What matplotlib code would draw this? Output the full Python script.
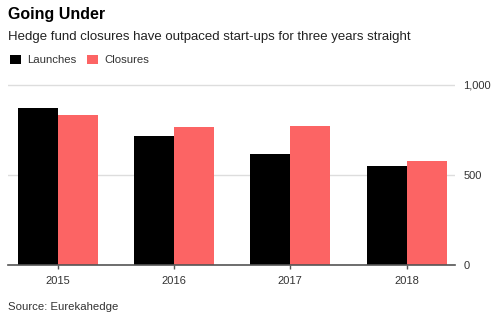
import matplotlib
matplotlib.use("Agg")
import matplotlib.pyplot as plt
import numpy as np

plt.rcParams['font.family'] = ['Liberation Sans', 'DejaVu Sans']

# values
years = ['2015', '2016', '2017', '2018']
launches = [874, 717, 617, 550]
closures = [835, 765, 770, 578]
yticks = [0, 500, 1000]
ytick_labels = ['0', '500', '1,000']

black = '#000000'
red = '#fc6464'

W, H = 500, 329
fig = plt.figure(figsize=(W / 100, H / 100), dpi=100)

# axes placed in pixel coords: left 8, right 455, baseline at y=265, 180px per 1000
ax_left, ax_right, ax_base = 8, 455, 265
ymax = 1010
ax = fig.add_axes([ax_left / W, (H - ax_base) / H, (ax_right - ax_left) / W, ymax * 0.18 / H])

x = np.arange(len(years))
w = 0.344
ax.bar(x - w / 2, launches, w, color=black, label='Launches', zorder=3)
ax.bar(x + w / 2, closures, w, color=red, label='Closures', zorder=3)

ax.set_xlim(-0.427, 3.416)
ax.set_ylim(0, ymax)

for s in ['top', 'left', 'right']:
    ax.spines[s].set_visible(False)
ax.spines['bottom'].set_color('#555555')
ax.spines['bottom'].set_linewidth(1.2)
ax.spines['bottom'].set_zorder(4)

ax.yaxis.tick_right()
ax.set_yticks(yticks)
ax.set_yticklabels(ytick_labels)
ax.tick_params(axis='y', length=0, pad=6, labelsize=8, labelcolor='#333333')
ax.grid(axis='y', color='#dddddd', linewidth=1, zorder=0)

ax.set_xticks(x)
ax.set_xticklabels(years)
ax.tick_params(axis='x', length=3, width=1, color='#555555', pad=5, labelsize=8, labelcolor='#333333')

fig.text(8 / W, 1 - 15 / H, 'Going Under', fontsize=11.5, fontweight='bold', va='center', ha='left')
fig.text(8 / W, 1 - 37 / H, 'Hedge fund closures have outpaced start-ups for three years straight',
         fontsize=9.5, va='center', ha='left', color='#222222')

handles, labels = ax.get_legend_handles_labels()
fig.legend(handles, labels, loc='center left', bbox_to_anchor=(0, 1 - 60 / H), ncol=2, frameon=False,
           fontsize=8.2, handlelength=0.9, handleheight=0.9, handletextpad=0.55, columnspacing=1.0,
           labelcolor='#333333')

fig.text(8 / W, 1 - 307 / H, 'Source: Eurekahedge', fontsize=8.2, va='center', ha='left', color='#333333')

fig.savefig('out.png', dpi=100)
